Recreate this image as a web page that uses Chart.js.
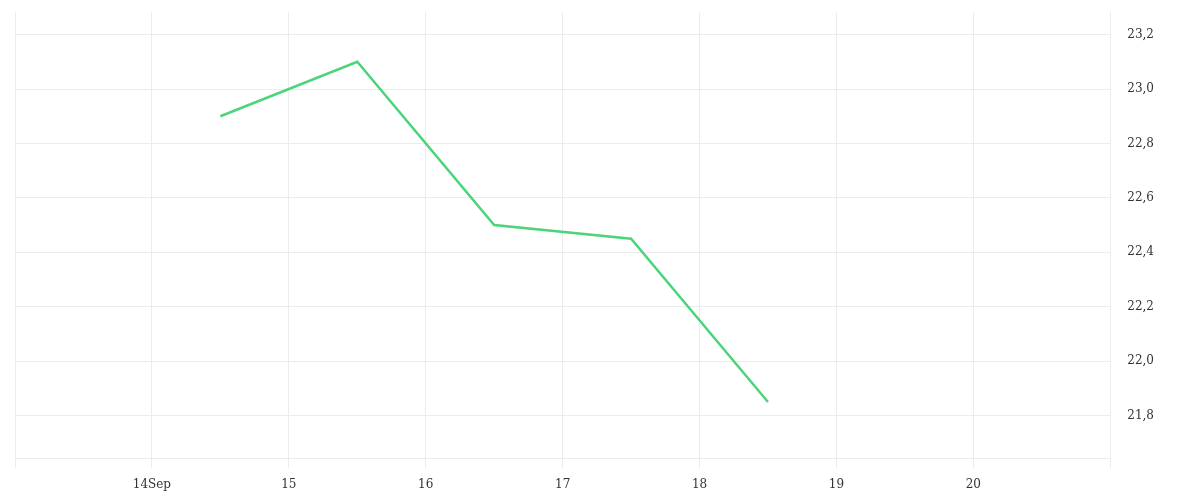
<!DOCTYPE html>
<html>
<head>
<meta charset="utf-8">
<script src="https://cdn.jsdelivr.net/npm/chart.js@4.4.0/dist/chart.umd.min.js"></script>
<style>
  html, body { margin: 0; padding: 0; background: #fff; }
  #wrap { width: 1200px; height: 500px; position: relative; }
</style>
</head>
<body>
<div id="wrap"><canvas id="chart"></canvas></div>
<script>
// day of September (midday readings)
const days = [14.5, 15.5, 16.5, 17.5, 18.5];
const values = [22.9, 23.1, 22.5, 22.45, 21.85];
const yTicks = [21.8, 22.0, 22.2, 22.4, 22.6, 22.8, 23.0, 23.2];
const xTicks = [13, 14, 15, 16, 17, 18, 19, 20, 21];

const gridColor = '#ececec';

new Chart(document.getElementById('chart'), {
    type: 'line',
    data: {
        datasets: [{
            data: days.map((d, i) => ({ x: d, y: values[i] })),
            borderColor: '#4cd47b',
            borderWidth: 2.5,
            pointRadius: 0,
            tension: 0,
            fill: false
        }]
    },
    options: {
        responsive: true,
        maintainAspectRatio: false,
        animation: false,
        layout: { padding: { left: 15, top: 12, right: 29, bottom: -1 } },
        plugins: {
            legend: { display: false },
            tooltip: { enabled: false }
        },
        scales: {
            x: {
                type: 'linear',
                min: 13,
                max: 21,
                afterBuildTicks: axis => { axis.ticks = xTicks.map(v => ({ value: v })); },
                grid: { color: gridColor, tickLength: 10 },
                border: { display: true, color: gridColor },
                ticks: {
                    color: '#333',
                    padding: 9,
                    maxRotation: 0,
                    font: { family: 'DejaVu Serif', size: 12 },
                    callback: v => (v === 13 || v === 21) ? '' : (v === 14 ? '14Sep' : String(v))
                }
            },
            y: {
                position: 'right',
                min: 21.642,
                max: 23.283,
                afterBuildTicks: axis => { axis.ticks = yTicks.map(v => ({ value: v })); },
                afterFit: axis => { axis.paddingTop = 0; axis.paddingBottom = 0; },
                grid: { color: gridColor, drawTicks: false },
                border: { display: true, color: gridColor },
                ticks: {
                    color: '#333',
                    padding: 17,
                    font: { family: 'DejaVu Serif', size: 12 },
                    callback: v => v.toFixed(1).replace('.', ',')
                }
            }
        }
    }
});
</script>
</body>
</html>
